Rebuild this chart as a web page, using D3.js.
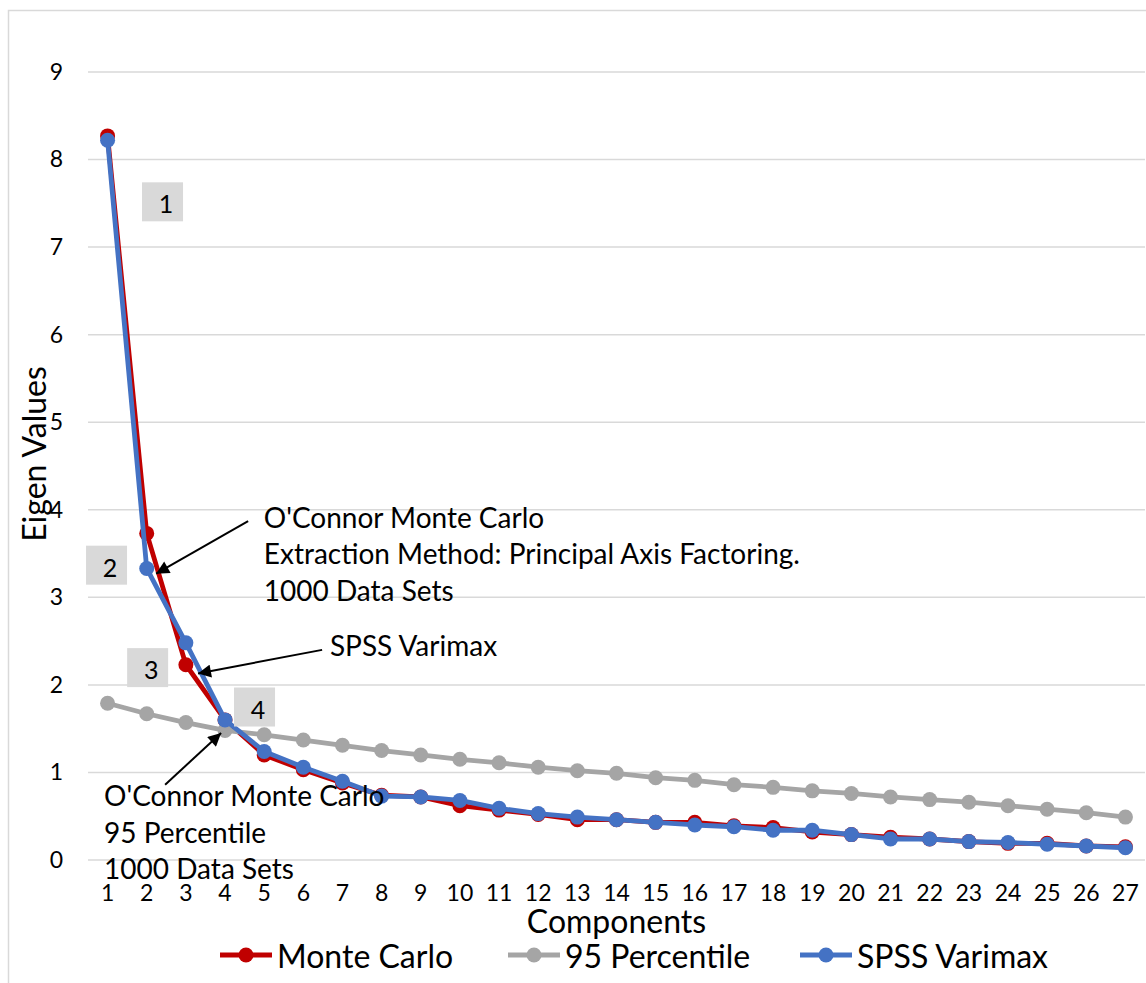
<!DOCTYPE html>
<html>
<head>
<meta charset="utf-8">
<script src="https://cdn.jsdelivr.net/npm/d3@7/dist/d3.min.js"></script>
<style>
  html, body { margin: 0; padding: 0; background: #fff; }
  svg { display: block; font-family: Lato, "Open Sans", sans-serif; }
</style>
</head>
<body>
<svg id="chart" width="1146" height="983"></svg>
<script>
// Scree plot: observed eigenvalues against parallel-analysis thresholds
const components = ["1","2","3","4","5","6","7","8","9","10","11","12","13","14",
                    "15","16","17","18","19","20","21","22","23","24","25","26","27"];
const monteCarlo = [8.27, 3.73, 2.23, 1.60, 1.20, 1.03, 0.88, 0.74, 0.72, 0.62, 0.57, 0.52, 0.46, 0.46,
                    0.43, 0.43, 0.39, 0.37, 0.32, 0.29, 0.26, 0.24, 0.21, 0.19, 0.19, 0.16, 0.15];
const percentile95 = [1.79, 1.67, 1.57, 1.48, 1.43, 1.37, 1.31, 1.25, 1.20, 1.15, 1.11, 1.06, 1.02, 0.99,
                      0.94, 0.91, 0.86, 0.83, 0.79, 0.76, 0.72, 0.69, 0.66, 0.62, 0.58, 0.54, 0.49];
const spssVarimax = [8.22, 3.33, 2.48, 1.60, 1.24, 1.06, 0.90, 0.73, 0.72, 0.68, 0.59, 0.53, 0.49, 0.46,
                     0.43, 0.40, 0.38, 0.34, 0.34, 0.29, 0.24, 0.24, 0.21, 0.20, 0.18, 0.16, 0.14];
const yTicks = [0, 1, 2, 3, 4, 5, 6, 7, 8, 9];
const seriesNames = ["Monte Carlo", "95 Percentile", "SPSS Varimax"];
const seriesColors = ["#C00000", "#A5A5A5", "#4472C4"];
const factorLabels = ["1", "2", "3", "4"];

const svg = d3.select("#chart");
const W = 1146, H = 983;
const plot = { left: 88, right: 1145, top: 72, bottom: 860 };

// outer chart frame
svg.append("rect")
  .attr("x", 8.5).attr("y", 10.5)
  .attr("width", W + 20).attr("height", H + 20)
  .attr("fill", "#fff").attr("stroke", "#d9d9d9").attr("stroke-width", 1.5);

const x = d3.scaleBand().domain(components).range([plot.left, plot.right]).padding(0);
const cx = c => x(c) + x.bandwidth() / 2;
const y = d3.scaleLinear().domain([0, 9]).range([plot.bottom, plot.top]);
// fractional category position, for placing callouts between categories
const xf = d3.scaleLinear().domain([1, 27]).range([cx("1"), cx("27")]);

// horizontal gridlines
svg.append("g")
  .selectAll("line").data(yTicks).join("line")
  .attr("x1", plot.left).attr("x2", plot.right)
  .attr("y1", d => y(d)).attr("y2", d => y(d))
  .attr("stroke", "#d9d9d9").attr("stroke-width", 1.5);

// y axis labels
const yAxis = svg.append("g")
  .attr("transform", `translate(${plot.left},0)`)
  .call(d3.axisLeft(y).tickValues(yTicks).tickSize(0).tickPadding(25).tickFormat(d3.format("d")));
yAxis.select(".domain").remove();
yAxis.selectAll("text").attr("font-size", 23).attr("fill", "#000").attr("font-family", "Lato");

// x axis labels
const xAxis = svg.append("g")
  .attr("transform", `translate(0,${plot.bottom})`)
  .call(d3.axisBottom(x).tickSize(0).tickPadding(24));
xAxis.select(".domain").remove();
xAxis.selectAll("text").attr("font-size", 23).attr("fill", "#000").attr("font-family", "Lato")
  .attr("dy", "0.35em").attr("y", 33);

// axis titles
svg.append("text")
  .attr("x", (plot.left + plot.right) / 2).attr("y", 920)
  .attr("text-anchor", "middle").attr("dominant-baseline", "central")
  .attr("font-size", 32).text("Components");
svg.append("text")
  .attr("transform", "translate(33,454) rotate(-90)")
  .attr("text-anchor", "middle").attr("dominant-baseline", "central")
  .attr("font-size", 32).text("Eigen Values");

// series lines and markers
const seriesData = [monteCarlo, percentile95, spssVarimax];
const line = d3.line().x((d, i) => cx(components[i])).y(d => y(d));
seriesData.forEach((vals, si) => {
  const g = svg.append("g");
  g.append("path").datum(vals)
    .attr("d", line).attr("fill", "none")
    .attr("stroke", seriesColors[si]).attr("stroke-width", 4.8)
    .attr("stroke-linejoin", "round").attr("stroke-linecap", "round");
  g.selectAll("circle").data(vals).join("circle")
    .attr("cx", (d, i) => cx(components[i])).attr("cy", d => y(d))
    .attr("r", 7.5).attr("fill", seriesColors[si]);
});

// numbered factor boxes above the scree elbow
const boxes = [
  { label: factorLabels[0], c: 1.88, v: 7.74 },
  { label: factorLabels[1], c: 0.45, v: 3.59 },
  { label: factorLabels[2], c: 1.50, v: 2.42 },
  { label: factorLabels[3], c: 4.23, v: 1.97 }
];
boxes.forEach(b => {
  const bx = xf(b.c), by = y(b.v);
  svg.append("rect").attr("x", bx).attr("y", by).attr("width", 41).attr("height", 39)
    .attr("fill", "#d9d9d9");
  svg.append("text").attr("x", bx + 24).attr("y", by + 21)
    .attr("text-anchor", "middle").attr("dominant-baseline", "central")
    .attr("font-size", 25).text(b.label);
});

// callout arrows
svg.append("defs").append("marker")
  .attr("id", "head").attr("viewBox", "0 0 10 10")
  .attr("refX", 10).attr("refY", 5)
  .attr("markerWidth", 8).attr("markerHeight", 6.5)
  .attr("markerUnits", "strokeWidth").attr("orient", "auto")
  .append("path").attr("d", "M0,0 L10,5 L0,10 Z").attr("fill", "#000");

const arrows = [
  { from: [4.59, 3.87], to: [2.24, 3.27] },
  { from: [6.48, 2.40], to: [3.31, 2.13] },
  { from: [2.47, 0.86], to: [3.90, 1.45] }
];
arrows.forEach(a => {
  svg.append("line")
    .attr("x1", xf(a.from[0])).attr("y1", y(a.from[1]))
    .attr("x2", xf(a.to[0])).attr("y2", y(a.to[1]))
    .attr("stroke", "#000").attr("stroke-width", 2)
    .attr("marker-end", "url(#head)");
});

// callout texts
const callouts = [
  { c: 4.99, v: 3.92, lines: ["O'Connor Monte Carlo", "Extraction Method: Principal Axis Factoring.", "1000 Data Sets"] },
  { c: 6.68, v: 2.45, lines: ["SPSS Varimax"] },
  { c: 0.91, v: 0.74, lines: ["O'Connor Monte Carlo", "95 Percentile", "1000 Data Sets"] }
];
callouts.forEach(co => {
  const t = svg.append("text").attr("font-size", 28).attr("fill", "#000");
  co.lines.forEach((l, i) => {
    t.append("tspan").attr("x", xf(co.c)).attr("y", y(co.v) + i * 36.5)
      .attr("dominant-baseline", "central").text(l);
  });
});

// legend
const legendItems = [
  { name: seriesNames[0], color: seriesColors[0], x0: 220 },
  { name: seriesNames[1], color: seriesColors[1], x0: 508 },
  { name: seriesNames[2], color: seriesColors[2], x0: 800 }
];
const ly = 955;
legendItems.forEach(it => {
  const g = svg.append("g");
  g.append("line").attr("x1", it.x0).attr("x2", it.x0 + 52).attr("y1", ly).attr("y2", ly)
    .attr("stroke", it.color).attr("stroke-width", 4.8);
  g.append("circle").attr("cx", it.x0 + 26).attr("cy", ly).attr("r", 7.5).attr("fill", it.color);
  g.append("text").attr("x", it.x0 + 57).attr("y", ly)
    .attr("dominant-baseline", "central").attr("font-size", 32).text(it.name);
});
</script>
</body>
</html>
